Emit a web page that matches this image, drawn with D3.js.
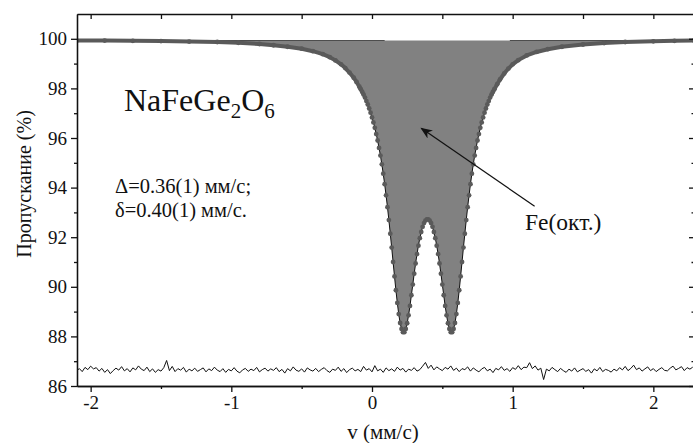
<!DOCTYPE html>
<html lang="ru">
<head>
<meta charset="utf-8">
<style>
  body { margin: 0; background: #fff; }
  svg text { font-family: "Liberation Serif", "Times New Roman", serif; fill: #111; }
  .axis path, .axis line { stroke: #111; stroke-width: 1.3; }
  .axis text { font-size: 19px; font-family: "Liberation Serif", serif; fill: #111; }
</style>
</head>
<body>
<svg id="chart" width="693" height="443"></svg>
<script src="https://cdn.jsdelivr.net/npm/d3@7/dist/d3.min.js"></script>
<script>
// spectrum points (velocity, mm/s) and transmission (%)
var curveV = [-2.10, -1.90, -1.70, -1.50, -1.30, -1.10, -0.95, -0.80, -0.70, -0.60, -0.50, -0.42, -0.35, -0.30, -0.26, -0.22, -0.19, -0.16, -0.13, -0.11, -0.09,
  -0.08, -0.07, -0.06, -0.05, -0.04, -0.03, -0.02, -0.01, 0.00, 0.01, 0.02, 0.03, 0.04, 0.05, 0.06, 0.07, 0.08, 0.09,
  0.10, 0.11, 0.12, 0.13, 0.14, 0.15, 0.16, 0.17, 0.18, 0.19, 0.20, 0.21, 0.22, 0.23, 0.24, 0.25, 0.26, 0.27, 0.28, 0.29,
  0.30, 0.31, 0.32, 0.33, 0.34, 0.35, 0.36, 0.37, 0.38, 0.39, 0.40, 0.41, 0.42, 0.43, 0.44, 0.45, 0.46, 0.47, 0.48, 0.49,
  0.50, 0.51, 0.52, 0.53, 0.54, 0.55, 0.56, 0.57, 0.58, 0.59, 0.60, 0.61, 0.62, 0.63, 0.64, 0.65, 0.66, 0.67, 0.68, 0.69,
  0.70, 0.71, 0.72, 0.73, 0.74, 0.75, 0.76, 0.77, 0.78, 0.79, 0.80, 0.81, 0.82, 0.83, 0.84, 0.85, 0.86, 0.87,
  0.89, 0.91, 0.94, 0.97, 1.00, 1.04, 1.10, 1.17, 1.25, 1.35, 1.50, 1.65, 1.80, 2.00, 2.15, 2.29];
var curveT = [99.93, 99.93, 99.92, 99.91, 99.89, 99.87, 99.84, 99.79, 99.74, 99.68, 99.60, 99.50, 99.38, 99.26, 99.13, 98.97, 98.82, 98.64, 98.43, 98.26, 98.07,
  97.97, 97.86, 97.75, 97.63, 97.49, 97.35, 97.19, 97.02, 96.83, 96.63, 96.41, 96.16, 95.90, 95.60, 95.29, 94.94, 94.56, 94.14,
  93.69, 93.21, 92.69, 92.14, 91.58, 91.00, 90.42, 89.86, 89.35, 88.90, 88.54, 88.30, 88.17, 88.17, 88.30, 88.53, 88.85, 89.23, 89.66, 90.09,
  90.53, 90.94, 91.32, 91.66, 91.96, 92.21, 92.42, 92.57, 92.67, 92.72, 92.72, 92.67, 92.57, 92.42, 92.21, 91.96, 91.66, 91.32, 90.94, 90.53,
  90.09, 89.66, 89.23, 88.85, 88.53, 88.30, 88.17, 88.17, 88.30, 88.54, 88.90, 89.35, 89.86, 90.42, 91.00, 91.58, 92.14, 92.69, 93.21, 93.69,
  94.14, 94.56, 94.94, 95.29, 95.60, 95.90, 96.16, 96.41, 96.63, 96.83, 97.02, 97.19, 97.35, 97.49, 97.63, 97.75, 97.86, 97.97,
  98.17, 98.36, 98.60, 98.80, 98.97, 99.14, 99.33, 99.47, 99.58, 99.68, 99.77, 99.83, 99.87, 99.90, 99.92, 99.93];
var baseline = 99.93;
var baselineSegs = [[-2.10, 0.09], [0.98, 2.29]];

// residual, v from -2.10 step 0.02
var residStart = -2.10, residStep = 0.02;
var residT = [
  86.62, 86.70, 86.58, 86.75, 86.66, 86.80, 86.69, 86.74, 86.60, 86.71,
  86.55, 86.66, 86.50, 86.62, 86.72, 86.64, 86.78, 86.61, 86.70, 86.57,
  86.73, 86.65, 86.81, 86.68, 86.62, 86.76, 86.58, 86.69, 86.55, 86.66,
  86.60, 86.74, 87.03, 86.62, 86.79, 86.58, 86.70, 86.64, 86.75, 86.56,
  86.68, 86.61, 86.72, 86.59, 86.66, 86.73, 86.57, 86.69, 86.62, 86.76,
  86.64, 86.58, 86.70, 86.55, 86.67, 86.61, 86.74, 86.60, 86.53, 86.65,
  86.71, 86.59, 86.68, 86.62, 86.75, 86.57, 86.66, 86.72, 86.60, 86.69,
  86.63, 86.74, 86.58, 86.67, 86.52, 86.70, 86.61, 86.77, 86.64, 86.59,
  86.69, 86.56, 86.73, 86.65, 86.60, 86.71, 86.58, 86.67, 86.74, 86.62,
  86.55, 86.68, 86.63, 86.76, 86.59, 86.70, 86.54, 86.66, 86.72, 86.61,
  86.67, 86.58, 86.79, 86.64, 86.70, 86.57, 86.82, 86.61, 86.68, 86.55,
  86.73, 86.62, 86.69, 86.59, 86.76, 86.64, 86.71, 86.56, 86.68, 86.63,
  86.74, 86.60, 86.66, 86.80, 86.95, 86.71, 86.84, 86.65, 86.77, 86.69,
  86.62, 86.75, 86.68, 86.81, 86.63, 86.72, 86.58, 86.70, 86.66, 86.77,
  86.60, 86.73, 86.64, 86.57, 86.69, 86.75, 86.61, 86.68, 86.54, 86.71,
  86.65, 86.78, 86.63, 86.70, 86.59, 86.74, 86.67, 86.82, 86.66, 86.76,
  86.74, 86.94, 86.70, 86.81, 86.64, 86.72, 86.26, 86.68, 86.61, 86.75,
  86.66, 86.58, 86.71, 86.62, 86.55, 86.68, 86.60, 86.73, 86.57, 86.64,
  86.70, 86.59, 86.66, 86.52, 86.69, 86.61, 86.75, 86.58, 86.67, 86.63,
  86.56, 86.68, 86.61, 86.74, 86.65, 86.79, 86.62, 86.71, 86.84, 86.66,
  86.73, 86.60, 86.69, 86.77, 86.62, 86.70, 86.58, 86.67, 86.74, 86.63,
  86.61, 86.72, 86.80, 86.65, 86.71, 86.78, 86.62, 86.74, 86.68, 86.76];

var xMajor = [-2, -1, 0, 1, 2], xMinor = [-1.5, -0.5, 0.5, 1.5];
var yMajor = [86, 88, 90, 92, 94, 96, 98, 100], yMinor = [87, 89, 91, 93, 95, 97, 99];
var xDomain = [-2.097, 2.289], yDomain = [86, 101];

var pLeft = 77, pRight = 694, pTop = 14, pBottom = 386;
var serif = "'Liberation Serif', 'Times New Roman', serif";

var svg = d3.select("#chart");
var x = d3.scaleLinear().domain(xDomain).range([pLeft, pRight]);
var y = d3.scaleLinear().domain(yDomain).range([pBottom, pTop]);

var pts = curveV.map(function(v, i) { return {v: v, t: curveT[i]}; });
var resid = residT.map(function(t, i) { return {v: residStart + i * residStep, t: t}; });

var plot = svg.append("g");
plot.append("clipPath").attr("id", "clip")
  .append("rect").attr("x", pLeft).attr("y", pTop).attr("width", pRight - pLeft).attr("height", pBottom - pTop);
var g = plot.append("g").attr("clip-path", "url(#clip)");

// baseline (visible pieces)
baselineSegs.forEach(function(s) {
  g.append("line")
    .attr("x1", x(s[0])).attr("x2", x(s[1]))
    .attr("y1", y(baseline)).attr("y2", y(baseline))
    .attr("stroke", "#111").attr("stroke-width", 1);
});

// filled subspectrum
g.append("path").datum(pts)
  .attr("d", d3.area().x(function(d) { return x(d.v); })
    .y0(y(baseline)).y1(function(d) { return y(d.t); }))
  .attr("fill", "#818181");

// fit line
g.append("path").datum(pts)
  .attr("d", d3.line().x(function(d) { return x(d.v); }).y(function(d) { return y(d.t); }))
  .attr("fill", "none").attr("stroke", "#111").attr("stroke-width", 1);

// experimental points: merged band on the wings, dots on the lines
g.append("path").datum(pts)
  .attr("d", d3.line()
    .defined(function(d) { return d.v < -0.05 || d.v > 0.84; })
    .x(function(d) { return x(d.v); }).y(function(d) { return y(d.t); }))
  .attr("fill", "none").attr("stroke", "#5a5a5a").attr("stroke-width", 4)
  .attr("stroke-linejoin", "round").attr("stroke-linecap", "round");

g.selectAll("circle.pt").data(pts).enter().append("circle")
  .attr("class", "pt")
  .attr("cx", function(d) { return x(d.v); })
  .attr("cy", function(d) { return y(d.t); })
  .attr("r", 2.4)
  .attr("fill", "#5a5a5a");

// residual
g.append("path").datum(resid)
  .attr("d", d3.line().x(function(d) { return x(d.v); }).y(function(d) { return y(d.t); }))
  .attr("fill", "none").attr("stroke", "#111").attr("stroke-width", 1);

// axes
function styleAxis(sel) {
  sel.attr("font-family", serif).attr("font-size", 19);
  sel.selectAll("text").attr("fill", "#111");
}
svg.append("g").attr("class", "axis").attr("transform", "translate(0," + pBottom + ")")
  .call(d3.axisBottom(x).tickValues(xMajor).tickSize(6).tickSizeOuter(0).tickPadding(4)
    .tickFormat(function(d) { return d < 0 ? "-" + Math.abs(d) : d; }))
  .call(styleAxis);
svg.append("g").attr("class", "axis").attr("transform", "translate(0," + pBottom + ")")
  .call(d3.axisBottom(x).tickValues(xMinor).tickSize(3).tickSizeOuter(0).tickFormat(""));
svg.append("g").attr("class", "axis").attr("transform", "translate(0," + pTop + ")")
  .call(d3.axisTop(x).tickValues(xMajor.concat(xMinor)).tickSize(-5).tickSizeOuter(0).tickFormat(""));

svg.append("g").attr("class", "axis").attr("transform", "translate(" + pLeft + ",0)")
  .call(d3.axisLeft(y).tickValues(yMajor).tickSize(6).tickSizeOuter(0).tickPadding(4))
  .call(styleAxis);
svg.append("g").attr("class", "axis").attr("transform", "translate(" + pLeft + ",0)")
  .call(d3.axisLeft(y).tickValues(yMinor).tickSize(3).tickSizeOuter(0).tickFormat(""));
svg.append("g").attr("class", "axis").attr("transform", "translate(" + pRight + ",0)")
  .call(d3.axisRight(y).tickValues(yMajor).tickSize(-5).tickSizeOuter(0).tickFormat(""));
svg.append("g").attr("class", "axis").attr("transform", "translate(" + pRight + ",0)")
  .call(d3.axisRight(y).tickValues(yMinor).tickSize(-2.5).tickSizeOuter(0).tickFormat(""));

// axis titles
svg.append("text")
  .attr("transform", "translate(31,184) rotate(-90)")
  .attr("text-anchor", "middle").style("font-family", serif).style("font-size", "20px")
  .text("Пропускание (%)");
svg.append("text")
  .attr("x", 383).attr("y", 439)
  .attr("text-anchor", "middle").style("font-family", serif).style("font-size", "21px")
  .text("v (мм/с)");

// compound name
var nm = svg.append("text").attr("x", 124).attr("y", 111)
  .style("font-family", serif).style("font-size", "32px");
nm.append("tspan").text("NaFeGe");
nm.append("tspan").attr("dy", 7).style("font-size", "21px").text("2");
nm.append("tspan").attr("dy", -7).text("O");
nm.append("tspan").attr("dy", 7).style("font-size", "21px").text("6");

svg.append("text").attr("x", 115).attr("y", 193)
  .style("font-family", serif).style("font-size", "20.5px").text("Δ=0.36(1) мм/с;");
svg.append("text").attr("x", 115).attr("y", 217)
  .style("font-family", serif).style("font-size", "20.5px").text("δ=0.40(1) мм/с.");

// arrow + label
var arrowFrom = [1.156, 93.25], arrowTo = [0.351, 96.39];
svg.append("defs").append("marker")
  .attr("id", "ah").attr("viewBox", "0 0 10 10").attr("refX", 9).attr("refY", 5)
  .attr("markerWidth", 12).attr("markerHeight", 12).attr("markerUnits", "userSpaceOnUse")
  .attr("orient", "auto")
  .append("path").attr("d", "M0,1 L10,5 L0,9 L3,5 Z").attr("fill", "#111");
svg.append("line")
  .attr("x1", x(arrowFrom[0])).attr("y1", y(arrowFrom[1]))
  .attr("x2", x(arrowTo[0])).attr("y2", y(arrowTo[1]))
  .attr("stroke", "#111").attr("stroke-width", 1.2)
  .attr("marker-end", "url(#ah)");
svg.append("text").attr("x", 525).attr("y", 230)
  .style("font-family", serif).style("font-size", "23.5px").text("Fe(окт.)");
</script>
</body>
</html>
